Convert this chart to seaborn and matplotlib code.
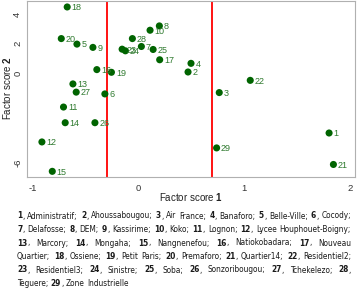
import re
import pandas as pd
import matplotlib
matplotlib.use("Agg")
import matplotlib.pyplot as plt
import seaborn as sns

# quartier ids with their two factor scores
ids = list(range(1, 30))
factor1 = [1.805, 0.472, 0.767, 0.500, -0.578, -0.314, 0.031, 0.201, -0.427, 0.113,
           -0.705, -0.909, -0.616, -0.689, -0.811, -0.390, 0.204, -0.670, -0.252, -0.726,
           1.846, 1.060, -0.151, -0.120, 0.142, -0.408, -0.585, -0.054, 0.742]
factor2 = [-3.98, 0.11, -1.27, 0.69, 1.98, -1.36, 1.82, 3.20, 1.76, 2.91,
           -2.24, -4.58, -0.69, -3.29, -6.55, 0.27, 0.93, 4.47, 0.09, 2.35,
           -6.09, -0.45, 1.64, 1.53, 1.62, -3.29, -1.24, 2.35, -4.98]
cut_points = [-0.29, 0.70]

x_ticks = [-1, 0, 1, 2]
y_ticks = [-6, -4, -2, 0, 2, 4]
y_ticklabels = ["-6", "", "", "0", "2", "4"]

caption_lines = [
    "1, Administratif; 2, Ahoussabougou; 3, Air France; 4, Banaforo; 5, Belle-Ville; 6, Cocody;",
    "7, Delafosse; 8, DEM; 9, Kassirime; 10, Koko; 11, Lognon; 12, Lycee Houphouet-Boigny;",
    "13, Marcory; 14, Mongaha; 15, Nangnenefou; 16, Natiokobadara; 17, Nouveau",
    "Quartier; 18, Ossiene; 19, Petit Paris; 20, Premaforo; 21, Quartier14; 22, Residentiel2;",
    "23, Residentiel3; 24, Sinistre; 25, Soba; 26, Sonzoribougou; 27, Tchekelezo; 28,",
    "Teguere; 29, Zone Industrielle",
]

sns.set_style("white")
plt.rcParams['font.family'] = ['Liberation Sans', 'DejaVu Sans']
plt.rcParams['mathtext.fontset'] = 'custom'
plt.rcParams['mathtext.rm'] = 'Liberation Sans'
plt.rcParams['mathtext.bf'] = 'Liberation Sans:bold'

df = pd.DataFrame({'id': ids, 'f1': factor1, 'f2': factor2})

W, H = 358, 290
fig = plt.figure(figsize=(W / 100, H / 100), dpi=100)
ax = fig.add_axes([27 / W, 1 - 177 / H, 328 / W, 176 / H])

for c in cut_points:
    ax.axvline(c, color='red', lw=1.3, zorder=1)

sns.scatterplot(data=df, x='f1', y='f2', color='#006400', s=26,
                edgecolor='none', ax=ax, zorder=3, legend=False)
for _, r in df.iterrows():
    ax.annotate(str(int(r['id'])), (r['f1'], r['f2']), xytext=(3.2, -0.6),
                textcoords='offset points', fontsize=6.5, color='#2f7a2f',
                va='center', ha='left', zorder=4)

ax.set_xlim(-1.05, 2.05)
ax.set_ylim(-6.93, 4.87)
ax.set_xticks(x_ticks)
ax.set_xticklabels([str(t) for t in x_ticks])
ax.set_yticks(y_ticks)
ax.set_yticklabels(y_ticklabels, rotation=90, va='center')
ax.tick_params(direction='out', length=3, width=0.6, color='#999999',
               labelsize=6.8, labelcolor='#333333')
ax.tick_params(axis='x', pad=2)
ax.tick_params(axis='y', pad=0.5)
for s in ax.spines.values():
    s.set_color('#b0b0b0')
    s.set_linewidth(0.8)

ax.set_xlabel(r"Factor score $\mathbf{1}$", fontsize=7, color='#222222')
ax.set_ylabel(r"Factor score $\mathbf{2}$", fontsize=7, color='#222222')
# place axis titles where the reference has them (pixels -> axes coords)
ax.xaxis.set_label_coords((191 - 27) / 328, -(197 - 177) / 176)
ax.yaxis.set_label_coords(-(27 - 7) / 328, (177 - 88) / 176)
ax.xaxis.label.set_va('center')
ax.yaxis.label.set_va('center')

# justified caption with bold ids
renderer = fig.canvas.get_renderer()
left_px, right_px = 17, 351
line_y = [216, 229.5, 243, 256.5, 270, 283.5]
cap_kw = dict(family=['DejaVu Sans'], fontstretch='condensed')


def split_word(word):
    m = re.match(r'^(\d+)(,.*)$', word)
    if m:
        return [(m.group(1), True), (m.group(2), False)]
    return [(word, False)]


def measure(txt, bold, fs):
    t = fig.text(0, 0, txt, fontsize=fs, fontweight='bold' if bold else 'normal', **cap_kw)
    w = t.get_window_extent(renderer).width
    t.remove()
    return w


def line_natural(line, fs):
    words = line.split(' ')
    ws = [sum(measure(s, b, fs) for s, b in split_word(w)) for w in words]
    sp = measure("a a", False, fs) - measure("aa", False, fs)
    return ws, sp


base_fs = 7.0
ws0, sp0 = line_natural(caption_lines[0], base_fs)
nat = sum(ws0) + sp0 * (len(ws0) - 1)
cap_fs = min(7.5, base_fs * (right_px - left_px) * 0.98 / nat)

for i, line in enumerate(caption_lines):
    words = line.split(' ')
    ws, sp = line_natural(line, cap_fs)
    if i < len(caption_lines) - 1:
        gap = (right_px - left_px - sum(ws)) / (len(words) - 1)
    else:
        gap = sp
    x = left_px
    for w, wwidth in zip(words, ws):
        xx = x
        for s, b in split_word(w):
            fig.text(xx / W, 1 - line_y[i] / H, s, fontsize=cap_fs,
                     fontweight='bold' if b else 'normal', color='#1a1a1a',
                     va='center', ha='left', **cap_kw)
            xx += measure(s, b, cap_fs)
        x += wwidth + gap

fig.savefig("out.png", dpi=100)
